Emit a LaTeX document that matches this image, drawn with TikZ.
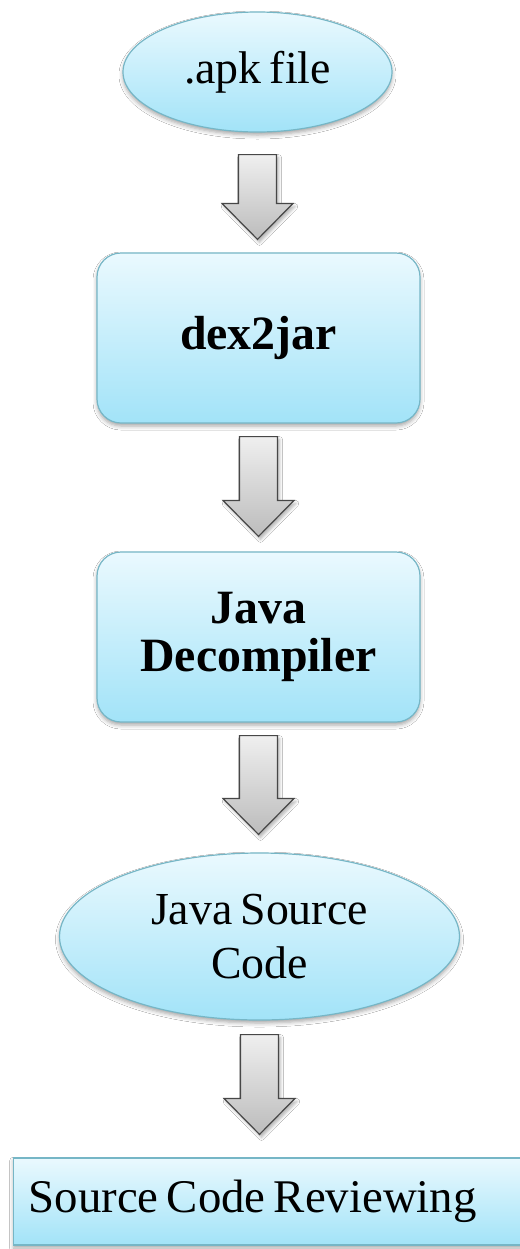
\documentclass[tikz,border=0pt]{standalone}
\usepackage{fontspec}
\setmainfont{Liberation Serif}[WordSpace=0.7]
\usetikzlibrary{shapes.geometric,shadows.blur,calc}
\definecolor{boxtop}{HTML}{EAF9FE}
\definecolor{boxbot}{HTML}{A2E3F8}
\definecolor{boxline}{HTML}{76B6C6}
\definecolor{arrtop}{HTML}{EFEFEF}
\definecolor{arrbot}{HTML}{BCBCBC}
\definecolor{arrline}{HTML}{474747}
\newcommand\blockarrow[4]{%
  \draw[blockarr] let \p1=(#1.south), \p2=(#2.north) in
    (\x1-19bp,\y1-#3bp) -- (\x1+19bp,\y1-#3bp) -- (\x1+19bp,\y2+#4bp+36bp)
    -- (\x1+35.5bp,\y2+#4bp+36bp) -- (\x1,\y2+#4bp) -- (\x1-35.5bp,\y2+#4bp+36bp)
    -- (\x1-19bp,\y2+#4bp+36bp) -- cycle;}
\begin{document}
\begin{tikzpicture}[x=1bp,y=-1bp,
  boxbase/.style={draw=boxline, line width=1.2bp, top color=boxtop, bottom color=boxbot,
    inner sep=0pt, align=center,
    blur shadow={shadow xshift=0bp, shadow yshift=-3bp, shadow blur radius=4bp, shadow opacity=35}},
  oval/.style={boxbase, ellipse, font=\fontsize{46}{55}\selectfont},
  rbox/.style={boxbase, rectangle, rounded corners=24bp, minimum width=323bp,
    minimum height=170bp, font=\bfseries\fontsize{48}{48}\selectfont},
  flat/.style={boxbase, rectangle, font=\fontsize{47}{55}\selectfont},
  blockarr/.style={draw=arrline, line width=1.2bp, top color=arrtop, bottom color=arrbot,
    line join=miter,
    blur shadow={shadow xshift=2bp, shadow yshift=-3bp, shadow blur radius=3bp, shadow opacity=30}}
]
\useasboundingbox (0,0) rectangle (520,1249);
\fill[white] (0,0) rectangle (520,1249);

\node[oval, minimum width=269bp, minimum height=120bp] (apk) at (257.5,72) {.apk file};
\node[rbox] (dex) at (258.5,338) {dex2jar};
\node[rbox] (jd) at (258.5,637) {Java\\Decompiler};
\node[oval, minimum width=400bp, minimum height=167bp] (jsc) at (259.5,936.5) {Java Source\\Code};
\node[flat, minimum width=520bp, minimum height=87bp, inner xsep=15bp, anchor=west]
  (scr) at (13,1201.5) {\makebox[490bp][l]{Source Code Reviewing}};

\blockarrow{apk}{dex}{22}{13}
\blockarrow{dex}{jd}{13}{15}
\blockarrow{jd}{jsc}{13}{18}
\blockarrow{jsc}{scr}{14}{23}
\end{tikzpicture}
\end{document}
